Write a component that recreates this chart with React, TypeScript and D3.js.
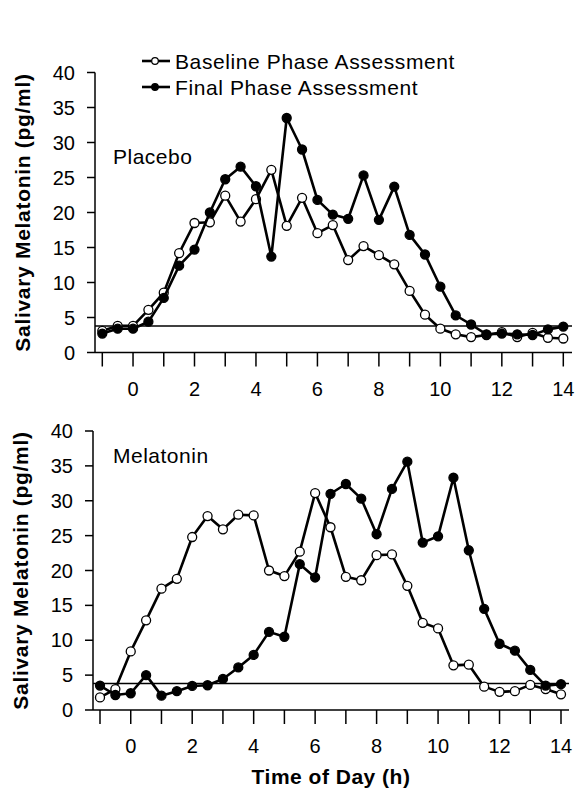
import React from "react";
import * as d3 from "d3";

const hours = [-1, -0.5, 0, 0.5, 1, 1.5, 2, 2.5, 3, 3.5, 4, 4.5, 5, 5.5, 6, 6.5, 7, 7.5, 8, 8.5, 9, 9.5, 10, 10.5, 11, 11.5, 12, 12.5, 13, 13.5, 14];

const placeboBaseline = [3.1, 3.8, 3.8, 6.1, 8.55, 14.2, 18.5, 18.6, 22.4, 18.7, 21.9, 26.1, 18.1, 22.1, 17.05, 18.2, 13.2, 15.2, 13.9, 12.6, 8.8, 5.4, 3.4, 2.6, 2.2, 2.5, 2.9, 2.2, 2.8, 2.1, 2.0];
const placeboFinal = [2.7, 3.4, 3.4, 4.4, 7.8, 12.4, 14.7, 20.0, 24.75, 26.55, 23.75, 13.7, 33.5, 29.0, 21.8, 19.7, 19.1, 25.3, 18.95, 23.7, 16.8, 14.0, 9.4, 5.3, 4.0, 2.6, 2.7, 2.6, 2.5, 3.3, 3.7];
const melatoninBaseline = [1.8, 3.0, 8.4, 12.85, 17.4, 18.8, 24.8, 27.8, 25.9, 28.0, 27.9, 20.0, 19.2, 22.7, 31.1, 26.2, 19.1, 18.6, 22.2, 22.3, 17.8, 12.5, 11.7, 6.4, 6.5, 3.35, 2.6, 2.7, 3.6, 3.0, 2.25];
const melatoninFinal = [3.5, 2.15, 2.4, 5.0, 2.06, 2.7, 3.45, 3.55, 4.45, 6.1, 7.9, 11.2, 10.5, 20.9, 19.0, 31.0, 32.4, 30.3, 25.2, 31.7, 35.6, 24.0, 24.9, 33.3, 22.9, 14.5, 9.5, 8.5, 5.75, 3.5, 3.7];

const threshold = 3.8;
const yTicks = [0, 5, 10, 15, 20, 25, 30, 35, 40];
const xTicks = [-1, 0, 1, 2, 3, 4, 5, 6, 7, 8, 9, 10, 11, 12, 13, 14];
const xLabels = [0, 2, 4, 6, 8, 10, 12, 14];
const seriesNames = ["Baseline Phase Assessment", "Final Phase Assessment"];
const panelTitles = ["Placebo", "Melatonin"];
const yTitle = "Salivary Melatonin (pg/ml)";
const xTitle = "Time of Day (h)";

const FONT = "'Liberation Sans', Arial, Helvetica, sans-serif";

type PanelProps = {
  axisX: number;
  top: number;
  bottom: number;
  xStart: number;
  xEnd: number;
  axisEnd: number;
  title: string;
  titleY: number;
  baseline: number[];
  final: number[];
};

function Panel({ axisX, top, bottom, xStart, xEnd, axisEnd, title, titleY, baseline, final }: PanelProps) {
  const x = d3.scaleLinear().domain([-1, 14]).range([xStart, xEnd]);
  const y = d3.scaleLinear().domain([0, 40]).range([bottom, top]);
  const line = d3
    .line<number>()
    .x((_, i) => x(hours[i]))
    .y((d) => y(d));
  const series = [
    { data: baseline, fill: "#fff" },
    { data: final, fill: "#000" },
  ];
  return (
    <g>
      <line x1={axisX} x2={axisX} y1={y(40)} y2={y(0)} stroke="#000" strokeWidth={1.5} />
      {yTicks.map((t) => (
        <g key={t}>
          <line x1={axisX - 8} x2={axisX} y1={y(t)} y2={y(t)} stroke="#000" strokeWidth={1.5} />
          <text x={axisX - 20} y={y(t) + 7} textAnchor="end" fontSize={20} fontFamily={FONT}>
            {t}
          </text>
        </g>
      ))}
      <line x1={axisX} x2={axisEnd} y1={y(0)} y2={y(0)} stroke="#000" strokeWidth={1.5} />
      {xTicks.map((t) => (
        <line key={t} x1={x(t)} x2={x(t)} y1={y(0)} y2={y(0) + 14} stroke="#000" strokeWidth={1.5} />
      ))}
      {xLabels.map((t) => (
        <text key={t} x={x(t)} y={y(0) + 43} textAnchor="middle" fontSize={20} fontFamily={FONT}>
          {t}
        </text>
      ))}
      <line x1={axisX} x2={axisEnd} y1={y(threshold)} y2={y(threshold)} stroke="#000" strokeWidth={1.5} />
      <text
        transform={`translate(${axisX - 65},${(y(0) + y(40)) / 2}) rotate(-90)`}
        textAnchor="middle"
        fontSize={21}
        fontWeight="bold"
        fontFamily={FONT}
        letterSpacing={0.7}
      >
        {yTitle}
      </text>
      <text x={113} y={titleY} fontSize={21} fontFamily={FONT} letterSpacing={0.5}>
        {title}
      </text>
      {series.map((s, k) => (
        <g key={k}>
          <path d={line(s.data) || ""} fill="none" stroke="#000" strokeWidth={2.6} strokeLinejoin="round" />
          {s.data.map((v, i) => (
            <circle key={i} cx={x(hours[i])} cy={y(v)} r={4.5} fill={s.fill} stroke="#000" strokeWidth={1.3} />
          ))}
        </g>
      ))}
    </g>
  );
}

export default function App() {
  const fills = ["#fff", "#000"];
  return (
    <svg width={576} height={796} style={{ position: "absolute", left: 0, top: 0, background: "#fff" }}>
      <rect width={576} height={796} fill="#fff" />
      {seriesNames.map((name, i) => (
        <g key={name}>
          <line x1={142} x2={170} y1={61 + i * 26} y2={61 + i * 26} stroke="#000" strokeWidth={2.6} />
          <circle cx={155} cy={61 + i * 26} r={3.3} fill={fills[i]} stroke="#000" strokeWidth={1.2} />
          <text x={175} y={68.5 + i * 26} fontSize={21} fontFamily={FONT} letterSpacing={0.6}>
            {name}
          </text>
        </g>
      ))}
      <Panel
        axisX={95}
        top={72.5}
        bottom={352.5}
        xStart={102.3}
        xEnd={563.3}
        axisEnd={572}
        title={panelTitles[0]}
        titleY={164}
        baseline={placeboBaseline}
        final={placeboFinal}
      />
      <Panel
        axisX={93}
        top={431}
        bottom={710}
        xStart={100}
        xEnd={561}
        axisEnd={569}
        title={panelTitles[1]}
        titleY={463}
        baseline={melatoninBaseline}
        final={melatoninFinal}
      />
      <text x={331} y={784} textAnchor="middle" fontSize={21} fontWeight="bold" fontFamily={FONT} letterSpacing={0.5}>
        {xTitle}
      </text>
    </svg>
  );
}
